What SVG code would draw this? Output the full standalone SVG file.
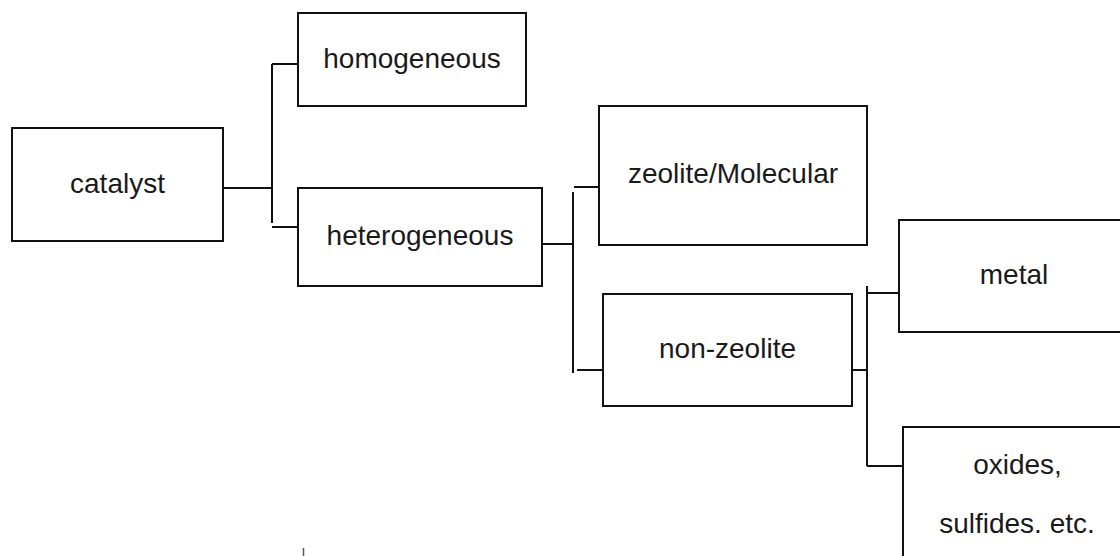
<svg xmlns="http://www.w3.org/2000/svg" width="1120" height="556" viewBox="0 0 1120 556">
<style>
.box{fill:#fff;stroke:#111;stroke-width:2}
.lbl{font-family:"Liberation Sans",Arial,sans-serif;font-size:28px;fill:#1a1a1a;text-anchor:middle}
.con{stroke:#111;stroke-width:2;fill:none}
</style>
<rect width="1120" height="556" fill="#fff"/>
<g id="connectors">
<path class="con" d="M223 188H272M272 64V223M272 64H298M272 227H298"/>
<path class="con" d="M542 244H573M573 192V373M574 187H599M577 370H603"/>
<path class="con" d="M852 370H867M867 286V466M866 293H899M867 466H903"/>
</g>
<g id="catalyst"><rect class="box" x="12" y="128" width="211" height="113"/><text class="lbl" x="117.5" y="193">catalyst</text></g>
<g id="homogeneous"><rect class="box" x="298" y="13" width="228" height="93"/><text class="lbl" x="412" y="68">homogeneous</text></g>
<g id="heterogeneous"><rect class="box" x="298" y="188" width="244" height="98"/><text class="lbl" x="420" y="245">heterogeneous</text></g>
<g id="zeolite"><rect class="box" x="599" y="106" width="268" height="139"/><text class="lbl" x="733" y="183">zeolite/Molecular</text></g>
<g id="nonzeolite"><rect class="box" x="603" y="294" width="249" height="112"/><text class="lbl" x="727.5" y="358">non-zeolite</text></g>
<g id="metal"><rect class="box" x="899" y="220" width="232" height="112"/><text class="lbl" x="1014" y="284">metal</text></g>
<g id="oxides"><rect class="box" x="903" y="427" width="230" height="140"/><text class="lbl" x="1017.5" y="474">oxides,</text><text class="lbl" x="1017" y="533">sulfides. etc.</text></g>
<line x1="303.5" y1="548" x2="303.5" y2="556" stroke="#555" stroke-width="1.5"/>
</svg>
